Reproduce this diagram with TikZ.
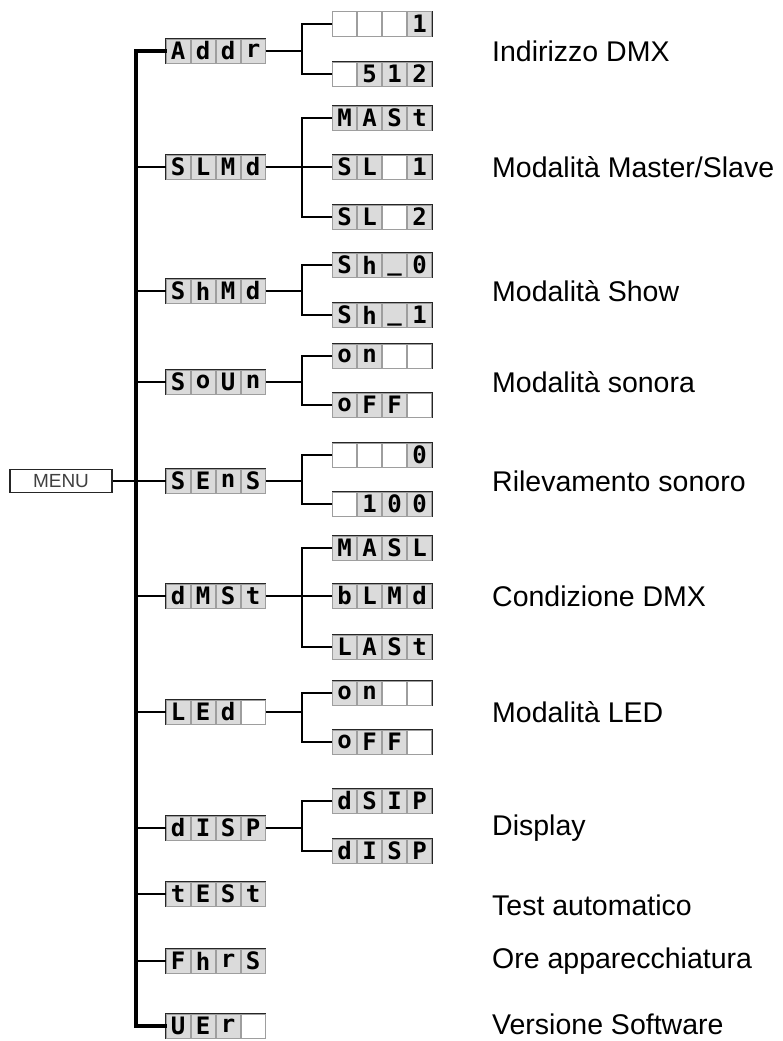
\documentclass[tikz,border=0pt]{standalone}
\usepackage{fontspec}
\setmainfont{Liberation Sans}
\newfontfamily\segfont{DejaVu Sans Mono}
\usepackage{xcolor}
\usepackage{tikz}
\usetikzlibrary{calc}

\definecolor{cellline}{gray}{0.62}
\definecolor{cellfill}{gray}{0.86}
% one cell of the display, lit or blank
\newcommand\dc[1]{{\setlength\fboxsep{0pt}\setlength\fboxrule{0.8pt}%
  \fcolorbox{cellline}{cellfill}{\parbox[c][23.4pt][c]{23.4pt}{\centering\segfont\bfseries\fontsize{24}{24}\selectfont #1}}}}
\newcommand\de{{\setlength\fboxsep{0pt}\setlength\fboxrule{0.8pt}%
  \fcolorbox{cellline}{white}{\parbox[c][23.4pt][c]{23.4pt}{\strut}}}}
\newcommand\dlow{\raisebox{-5pt}[0pt][0pt]{\_}}

\begin{document}
\begin{tikzpicture}[x=1pt, y=-1pt,
  display/.style={draw=black!85, line width=1pt, inner sep=0pt, outer sep=0pt},
  menubox/.style={draw=black!85, line width=1.2pt, inner sep=0pt,
    minimum width=102pt, minimum height=23pt, text=black!75,
    font=\fontsize{19}{19}\selectfont},
  caption/.style={anchor=west, inner sep=0pt, font=\fontsize{28.5}{30}\selectfont},
  trunk/.style={line width=3.2pt, line cap=rect},
  link/.style={line width=2.6pt}
]
\useasboundingbox (0,0) rectangle (783,1041);

\node[menubox] (menu) at (61,481) {MENU};

% first level
\node[display] (addr) at (215.5,51)  {\dc{A}\dc{d}\dc{d}\dc{r}};
\node[display] (slmd) at (215.5,167) {\dc{S}\dc{L}\dc{M}\dc{d}};
\node[display] (shmd) at (215.5,291) {\dc{S}\dc{h}\dc{M}\dc{d}};
\node[display] (soun) at (215.5,382) {\dc{S}\dc{o}\dc{U}\dc{n}};
\node[display] (sens) at (215.5,481) {\dc{S}\dc{E}\dc{n}\dc{S}};
\node[display] (dmst) at (215.5,596) {\dc{d}\dc{M}\dc{S}\dc{t}};
\node[display] (led)  at (215.5,712) {\dc{L}\dc{E}\dc{d}\de};
\node[display] (disp) at (215.5,828) {\dc{d}\dc{I}\dc{S}\dc{P}};
\node[display] (test) at (215.5,894) {\dc{t}\dc{E}\dc{S}\dc{t}};
\node[display] (fhrs) at (215.5,961) {\dc{F}\dc{h}\dc{r}\dc{S}};
\node[display] (uer)  at (215.5,1026) {\dc{U}\dc{E}\dc{r}\de};

% second level
\node[display] (addra) at (382,24)  {\de\de\de\dc{1}};
\node[display] (addrb) at (382,74)  {\de\dc{5}\dc{1}\dc{2}};
\node[display] (slmda) at (382,118) {\dc{M}\dc{A}\dc{S}\dc{t}};
\node[display] (slmdb) at (382,167) {\dc{S}\dc{L}\de\dc{1}};
\node[display] (slmdc) at (382,217) {\dc{S}\dc{L}\de\dc{2}};
\node[display] (shmda) at (382,265) {\dc{S}\dc{h}\dc{\dlow}\dc{0}};
\node[display] (shmdb) at (382,315) {\dc{S}\dc{h}\dc{\dlow}\dc{1}};
\node[display] (souna) at (382,356) {\dc{o}\dc{n}\de\de};
\node[display] (sounb) at (382,405) {\dc{o}\dc{F}\dc{F}\de};
\node[display] (sensa) at (382,455) {\de\de\de\dc{0}};
\node[display] (sensb) at (382,504) {\de\dc{1}\dc{0}\dc{0}};
\node[display] (dmsta) at (382,548) {\dc{M}\dc{A}\dc{S}\dc{L}};
\node[display] (dmstb) at (382,596) {\dc{b}\dc{L}\dc{M}\dc{d}};
\node[display] (dmstc) at (382,647) {\dc{L}\dc{A}\dc{S}\dc{t}};
\node[display] (leda)  at (382,693) {\dc{o}\dc{n}\de\de};
\node[display] (ledb)  at (382,742) {\dc{o}\dc{F}\dc{F}\de};
\node[display] (dispa) at (382,801) {\dc{d}\dc{S}\dc{I}\dc{P}};
\node[display] (dispb) at (382,851) {\dc{d}\dc{I}\dc{S}\dc{P}};

% captions
\node[caption] (capaddr) at (492,51)  {Indirizzo DMX};
\node[caption] (capslmd) at (492,167) {Modalità Master/Slave};
\node[caption] (capshmd) at (492,291) {Modalità Show};
\node[caption] (capsoun) at (492,382) {Modalità sonora};
\node[caption] (capsens) at (492,481) {Rilevamento sonoro};
\node[caption] (capdmst) at (492,596) {Condizione DMX};
\node[caption] (capled)  at (492,712) {Modalità LED};
\node[caption] (capdisp) at (492,828) {Display};
\node[caption] (captest) at (492,905) {Test automatico};
\node[caption] (capfhrs) at (492,961) {Ore apparecchiatura};
\node[caption] (capuer)  at (492,1024) {Versione Software};

% trunk and menu
\coordinate (tr) at (136,0);
\draw[trunk] (addr.west) -- (addr.west -| tr) -- (uer.west -| tr) -- (uer.west);
\foreach \n in {slmd,shmd,soun,sens,dmst,led,disp,test,fhrs}
  \draw[link] (\n.west -| tr) -- (\n.west);
\draw[line width=1.6pt] (menu.east) -- (menu.east -| tr);

% branches
\coordinate (br) at (302,0);
\foreach \p/\a/\b in {addr/addra/addrb, slmd/slmda/slmdc, shmd/shmda/shmdb,
    soun/souna/sounb, sens/sensa/sensb, dmst/dmsta/dmstc, led/leda/ledb,
    disp/dispa/dispb}{
  \draw[link] (\p.east) -- (\p.east -| br);
  \draw[link] (\a.west) -- (\a.west -| br) -- (\b.west -| br) -- (\b.west);
}
\draw[link] (slmdb.west -| br) -- (slmdb.west);
\draw[link] (dmstb.west -| br) -- (dmstb.west);
\end{tikzpicture}
\end{document}
